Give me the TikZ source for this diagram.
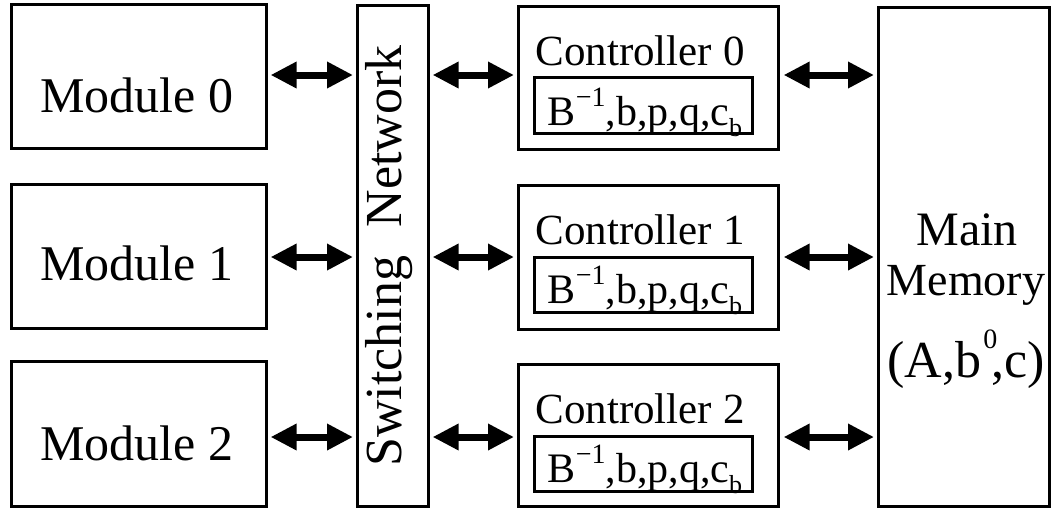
\documentclass[tikz,border=0pt]{standalone}
\usepackage{fontspec}
\setmainfont{Liberation Serif}
\usetikzlibrary{arrows.meta}
\begin{document}
\begin{tikzpicture}[x=1pt,y=-1pt,
  box/.style={draw=black, line width=2.6pt, fill=white, rectangle, inner sep=0pt, anchor=north west},
  lbl/.style={inner sep=0pt, anchor=base, font=\fontsize{50}{54}\selectfont},
  ctl/.style={inner sep=0pt, anchor=base, font=\fontsize{43}{46}\selectfont},
  inn/.style={inner sep=0pt, anchor=base, font=\fontsize{42}{45}\selectfont},
  biarrow/.style={line width=7pt, {Triangle[length=26pt,width=25pt]}-{Triangle[length=26pt,width=25pt]}}
]
\useasboundingbox (0,0) rectangle (1052,507);
% boxes
\node[box, minimum width=255pt, minimum height=144pt] (m0) at (10,3) {};
\node[box, minimum width=255pt, minimum height=144pt] (m1) at (10,183) {};
\node[box, minimum width=255pt, minimum height=145pt] (m2) at (10,360) {};
\node[box, minimum width=71pt, minimum height=501pt] (sw) at (356,4) {};
\node[box, minimum width=260pt, minimum height=143pt] (c0) at (517,5) {};
\node[box, minimum width=260pt, minimum height=144pt] (c1) at (517,184) {};
\node[box, minimum width=260pt, minimum height=142pt] (c2) at (517,363) {};
\node[box, minimum width=218pt, minimum height=56pt] (i0) at (533,76) {};
\node[box, minimum width=218pt, minimum height=55pt] (i1) at (533,256) {};
\node[box, minimum width=218pt, minimum height=55pt] (i2) at (533,435) {};
\node[box, minimum width=171pt, minimum height=499pt] (mm) at (877,6) {};
% labels
\node[lbl] (t0) at (137,112) {Module 0};
\node[lbl] (t1) at (137,280) {Module 1};
\node[lbl] (t2) at (137,460) {Module 2};
\node[lbl, rotate=90, anchor=center, font=\fontsize{52}{56}\selectfont] (tsw) at (389,256) {Switching\hspace{0.3em} Network};
\node[ctl] (tc0) at (640,65) {Controller 0};
\node[ctl] (tc1) at (640,244) {Controller 1};
\node[ctl] (tc2) at (640,423) {Controller 2};
\newcommand{\innertext}{B\raisebox{0.45em}{\fontsize{28}{28}\selectfont −1},b,p,q,c\raisebox{-0.28em}{\fontsize{26}{26}\selectfont b}}
\node[inn] (ti0) at (645,125) {\innertext};
\node[inn] (ti1) at (645,303) {\innertext};
\node[inn] (ti2) at (645,482) {\innertext};
\node[lbl, font=\fontsize{48}{52}\selectfont] (tm1) at (967,245) {Main};
\node[lbl, font=\fontsize{46}{50}\selectfont] (tm2) at (966,295) {Memory};
\node[lbl, font=\fontsize{52}{56}\selectfont] (tm3) at (966,377) {(A,b\raisebox{0.55em}{\kern0.04em\fontsize{28}{28}\selectfont 0}\kern-0.12em,c)};
% rows for arrows
\coordinate (r0) at (0,75);
\coordinate (r1) at (0,257);
\coordinate (r2) at (0,437);
% arrows
\draw[biarrow] ([xshift=3pt]m0.east |- r0) -- ([xshift=-3pt]sw.west |- r0);
\draw[biarrow] ([xshift=3pt]m1.east |- r1) -- ([xshift=-3pt]sw.west |- r1);
\draw[biarrow] ([xshift=3pt]m2.east |- r2) -- ([xshift=-3pt]sw.west |- r2);
\draw[biarrow] ([xshift=3pt]sw.east |- r0) -- ([xshift=-3pt]c0.west |- r0);
\draw[biarrow] ([xshift=3pt]sw.east |- r1) -- ([xshift=-3pt]c1.west |- r1);
\draw[biarrow] ([xshift=3pt]sw.east |- r2) -- ([xshift=-3pt]c2.west |- r2);
\draw[biarrow] ([xshift=4pt]c0.east |- r0) -- ([xshift=-3pt]mm.west |- r0);
\draw[biarrow] ([xshift=4pt]c1.east |- r1) -- ([xshift=-3pt]mm.west |- r1);
\draw[biarrow] ([xshift=4pt]c2.east |- r2) -- ([xshift=-3pt]mm.west |- r2);
\end{tikzpicture}
\end{document}
